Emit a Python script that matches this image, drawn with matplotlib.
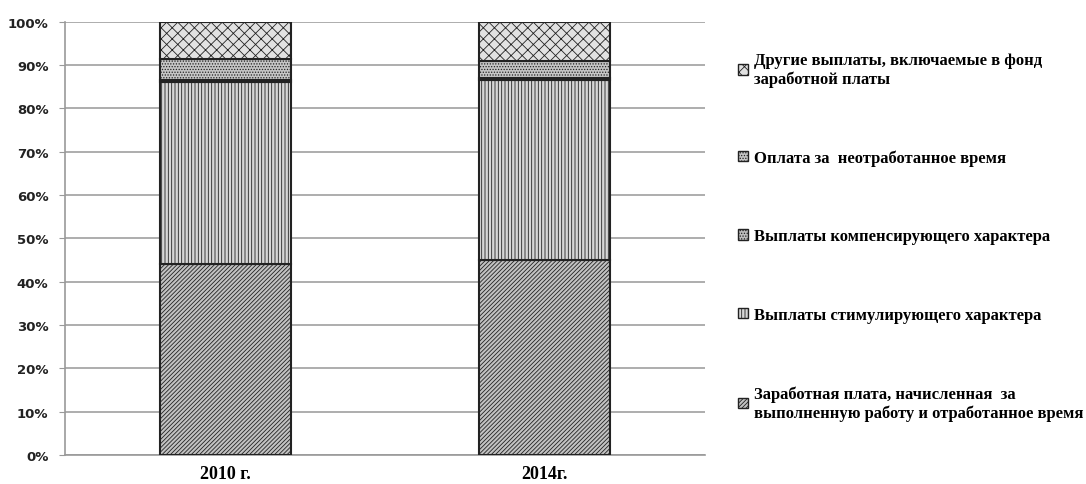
import matplotlib
matplotlib.use("Agg")
from matplotlib import pyplot as plt
from matplotlib.patches import Patch
import numpy as np

years = ["2010 г.", "2014г."]
base = [44.0, 45.0]        # Заработная плата за выполненную работу
stim = [42.0, 41.5]        # стимулирующего характера
comp = [0.5, 0.5]          # компенсирующего характера
unworked = [5.0, 4.0]      # за неотработанное время
other = [8.5, 9.0]         # другие выплаты

labels = [
    "Заработная плата, начисленная  за\nвыполненную работу и отработанное время",
    "Выплаты стимулирующего характера",
    "Выплаты компенсирующего характера",
    "Оплата за  неотработанное время",
    "Другие выплаты, включаемые в фонд\nзаработной платы",
]
series = [base, stim, comp, unworked, other]
faces = ["#c2c2c2", "#d6d6d6", "#bdbdbd", "#c6c6c6", "#e2e2e2"]
hatches = ["////////", "|||||", "......", "......", "xxx"]

plt.rcParams["hatch.color"] = "#9a9a9a"
plt.rcParams["hatch.linewidth"] = 0.6

fig = plt.figure(figsize=(10.86, 4.85), dpi=100)
ax = fig.add_axes([0.06, 0.06, 0.589, 0.893])

x = np.arange(len(years))
bottom = np.zeros(len(years))
for vals, fc, h in zip(series, faces, hatches):
    ax.bar(x, vals, 0.41, bottom=bottom, color=fc, hatch=h,
           edgecolor="#222222", linewidth=1.5, zorder=3)
    bottom += np.array(vals)

ax.set_xlim(-0.5, 1.5)
ax.set_ylim(0, 100)
ax.set_yticks(np.arange(0, 101, 10))
ax.set_yticklabels([f"{v}%" for v in range(0, 101, 10)],
                   fontfamily="DejaVu Sans", fontweight="bold", fontsize=9.5, color="#222222")
ax.set_xticks(x)
ax.set_xticklabels(years, fontfamily="Liberation Serif", fontweight="bold", fontsize=13)
ax.tick_params(axis="x", length=0, pad=7)
ax.tick_params(axis="y", length=4, color="#999999", pad=8)
ax.grid(axis="y", color="#a0a0a0", linewidth=1.2, zorder=0)
for s in ["top", "right"]:
    ax.spines[s].set_visible(False)
ax.spines["left"].set_color("#999999")
ax.spines["bottom"].set_color("#999999")
ax.spines["left"].set_linewidth(1.2)
ax.spines["bottom"].set_linewidth(1.2)

handles = [Patch(facecolor=fc, hatch=h, edgecolor="#222222", linewidth=1.0)
           for fc, h in zip(faces, hatches)]
fig.legend(handles[::-1], labels[::-1], loc="upper left",
           bbox_to_anchor=(0.666, 0.922), frameon=False,
           prop={"family": "Liberation Serif", "weight": "bold", "size": 12},
           handlelength=0.6, handleheight=0.6, handletextpad=0.35,
           labelspacing=3.75)

fig.savefig("out.png", dpi=100)
